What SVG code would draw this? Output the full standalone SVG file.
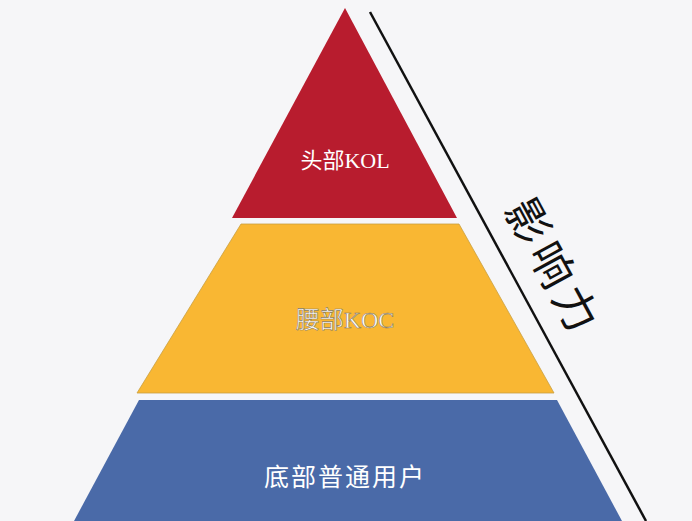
<svg xmlns="http://www.w3.org/2000/svg" width="692" height="521" viewBox="0 0 692 521">
<style>
.lbl{text-anchor:middle;dominant-baseline:central}
</style>
<rect width="692" height="521" fill="#f6f6f8"/>
<g id="top"><polygon points="345,8 457,218 232,218" fill="#b81c2e"/>
<text class="lbl" x="345" y="160" font-family="'Liberation Serif','Noto Sans CJK SC',serif" font-size="22" fill="#fff">头部KOL</text></g>
<g id="middle"><polygon points="241,224 459,224 554,393 137,393" fill="#f9b733" stroke="#c9a040" stroke-width="0.8"/>
<text class="lbl" x="345" y="320" font-family="'Liberation Serif','Noto Sans CJK SC',serif" font-size="24" fill="#fff" stroke="#8a7a5a" stroke-width="0.6">腰部KOC</text></g>
<g id="bottom"><polygon points="139,400 557,400 622,521 74,521" fill="#4a6aa8"/>
<text class="lbl" x="345" y="475" font-family="'Noto Sans CJK SC',sans-serif" font-size="25" fill="#fff" letter-spacing="2">底部普通用户</text></g>
<g id="connectors"><line x1="370" y1="12" x2="646" y2="521" stroke="#111" stroke-width="2.5"/></g>
<g id="influence"><text class="lbl" transform="translate(556,266) rotate(61.5)" font-family="'Noto Sans CJK SC',sans-serif" font-size="44" fill="#111" letter-spacing="6">影响力</text></g>
</svg>
